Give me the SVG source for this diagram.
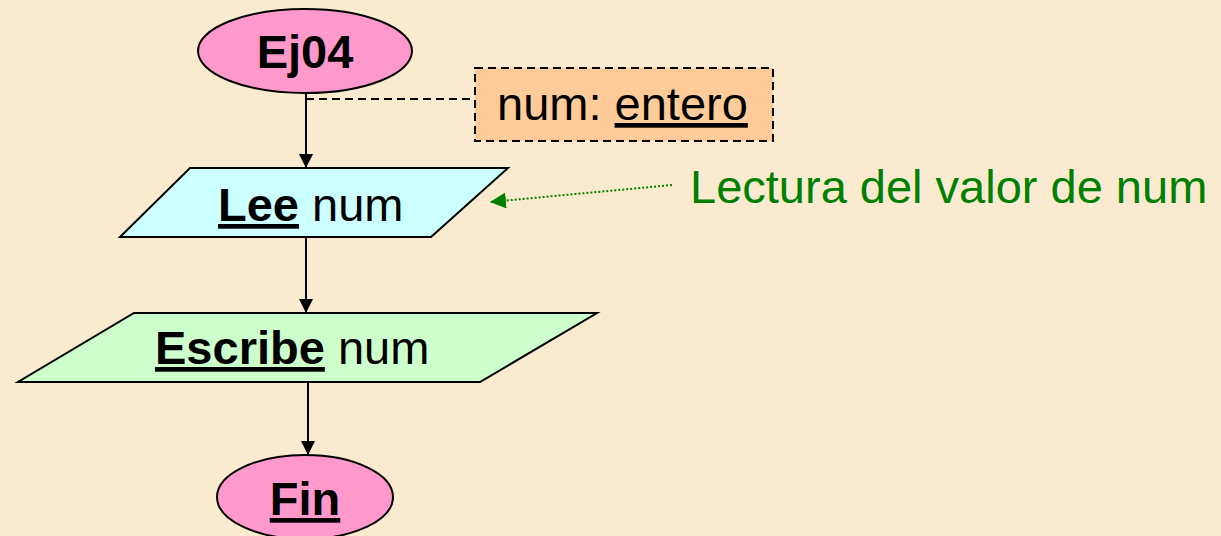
<svg xmlns="http://www.w3.org/2000/svg" width="1221" height="536" viewBox="0 0 1221 536">
<defs>
<style>
text{font-family:"Liberation Sans",Arial,sans-serif;font-size:47px;fill:#000}
.b{font-weight:bold}
.u{text-decoration:underline}
.shape{stroke:#000;stroke-width:2}
.conn{stroke:#000;stroke-width:2;fill:none}
</style>
<marker id="ah" viewBox="0 0 10 10" refX="10" refY="5" markerWidth="14" markerHeight="14" markerUnits="userSpaceOnUse" orient="auto">
<path d="M0,0 L10,5 L0,10 z" fill="#000"/>
</marker>
<marker id="gh" viewBox="0 0 10 10" refX="10" refY="5" markerWidth="16" markerHeight="16" markerUnits="userSpaceOnUse" orient="auto">
<path d="M0,0 L10,5 L0,10 z" fill="#008000"/>
</marker>
</defs>
<rect width="1221" height="536" fill="#FAEBD0"/>
<g id="connectors">
<line class="conn" x1="306" y1="93" x2="306" y2="168" marker-end="url(#ah)"/>
<line class="conn" x1="306" y1="237" x2="306" y2="313" marker-end="url(#ah)"/>
<line class="conn" x1="308" y1="382" x2="308" y2="455" marker-end="url(#ah)"/>
<line class="conn" x1="306" y1="99" x2="475" y2="99" stroke-dasharray="8,5"/>
<line x1="672" y1="185" x2="490" y2="202" stroke="#008000" stroke-width="2" stroke-dasharray="2,2" marker-end="url(#gh)"/>
</g>
<g id="ej04">
<ellipse class="shape" cx="305" cy="51" rx="107" ry="42" fill="#FF99CC"/>
<text class="b" x="305" y="68" text-anchor="middle">Ej04</text>
</g>
<g id="decl">
<rect class="shape" x="475" y="68" width="298" height="73" fill="#FFCC99" stroke-dasharray="8,5"/>
<text x="497" y="120">num: <tspan class="u">entero</tspan></text>
</g>
<g id="lee">
<polygon class="shape" points="190,168 508,168 431,237 120,237" fill="#CCFFFF"/>
<text x="218" y="221"><tspan class="b u">Lee</tspan> num</text>
</g>
<g id="escribe">
<polygon class="shape" points="134,313 597,313 480,382 18,382" fill="#CCFFCC"/>
<text x="155" y="364"><tspan class="b u">Escribe</tspan> num</text>
</g>
<g id="fin">
<ellipse class="shape" cx="305" cy="497" rx="88" ry="42" fill="#FF99CC"/>
<text class="b u" x="305" y="515" text-anchor="middle">Fin</text>
</g>
<g id="note">
<text x="690" y="203" style="fill:#008000">Lectura del valor de num</text>
</g>
</svg>
